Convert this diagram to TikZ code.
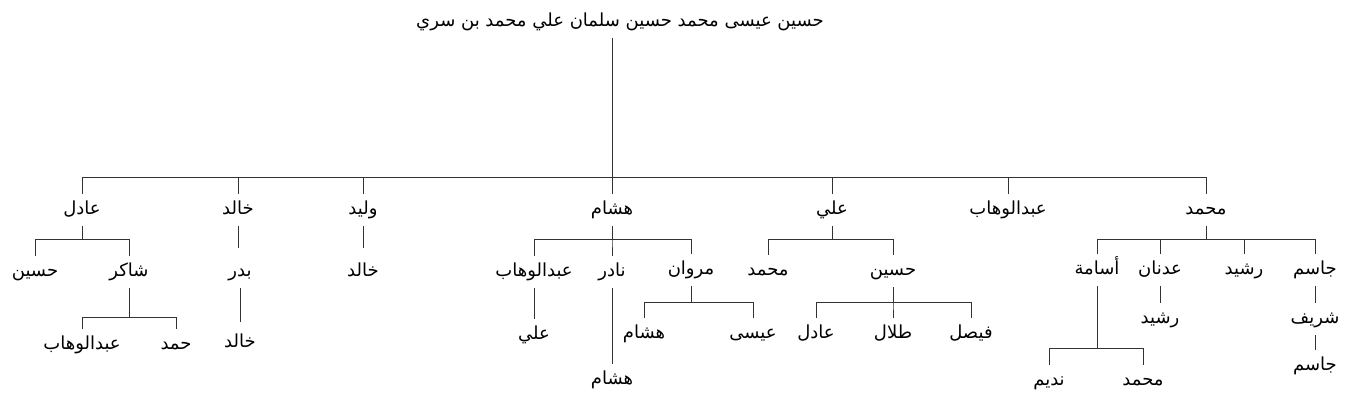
\documentclass[tikz,border=0pt]{standalone}
\usepackage{fontspec}
\newfontfamily\arabicfont[Script=Arabic]{DejaVu Sans}
\TeXXeTstate=1
\newcommand\AR[1]{\beginR#1\endR}
\begin{document}
\begin{tikzpicture}[x=1pt,y=-1pt,
  nm/.style={font=\arabicfont\fontsize{18}{20}\selectfont, inner xsep=0pt, inner ysep=4pt, text height=13pt, text depth=5pt},
  link/.style={draw=black!80, line width=0.9pt, shorten <=3pt, shorten >=3pt},
  longlink/.style={link, shorten >=11pt}]
\useasboundingbox (0,0) rectangle (1353,405);
% root
\node[nm] (root) at (620,22) {\AR{حسين عيسى محمد حسين سلمان علي محمد بن سري}};
% level 1
\node[nm] (adil) at (82,210) {\AR{عادل}};
\node[nm] (khalid) at (238,210) {\AR{خالد}};
\node[nm] (walid) at (363,210) {\AR{وليد}};
\node[nm] (hisham) at (612,210) {\AR{هشام}};
\node[nm] (ali) at (832,210) {\AR{علي}};
\node[nm] (abdulwahab) at (1008,210) {\AR{عبدالوهاب}};
\node[nm] (mohammad) at (1206,210) {\AR{محمد}};
% adil
\node[nm] (husain1) at (35,272) {\AR{حسين}};
\node[nm] (shakir) at (129,272) {\AR{شاكر}};
\node[nm] (abdulwahab2) at (82,345) {\AR{عبدالوهاب}};
\node[nm] (hamad) at (176,345) {\AR{حمد}};
% khalid
\node[nm] (badr) at (240,272) {\AR{بدر}};
\node[nm] (khalid2) at (240,343) {\AR{خالد}};
% walid
\node[nm] (khalid3) at (363,272) {\AR{خالد}};
% hisham
\node[nm] (abdulwahab3) at (534,272) {\AR{عبدالوهاب}};
\node[nm] (nadir) at (612,272) {\AR{نادر}};
\node[nm] (marwan) at (691,270) {\AR{مروان}};
\node[nm] (ali2) at (534,335) {\AR{علي}};
\node[nm] (hisham2) at (612,380) {\AR{هشام}};
\node[nm] (hisham3) at (644,334) {\AR{هشام}};
\node[nm] (isa) at (753,334) {\AR{عيسى}};
% ali
\node[nm] (mohammad2) at (768,271) {\AR{محمد}};
\node[nm] (husain2) at (893,271) {\AR{حسين}};
\node[nm] (adil2) at (816,334) {\AR{عادل}};
\node[nm] (talal) at (893,334) {\AR{طلال}};
\node[nm] (faisal) at (971,334) {\AR{فيصل}};
% mohammad
\node[nm] (usama) at (1097,270) {\AR{أسامة}};
\node[nm] (adnan) at (1160,270) {\AR{عدنان}};
\node[nm] (rashid) at (1244,270) {\AR{رشيد}};
\node[nm] (jasim) at (1315,270) {\AR{جاسم}};
\node[nm] (rashid2) at (1160,319) {\AR{رشيد}};
\node[nm] (sharif) at (1315,319) {\AR{شريف}};
\node[nm] (jasim2) at (1315,366) {\AR{جاسم}};
\node[nm] (nadim) at (1049,381) {\AR{نديم}};
\node[nm] (mohammad3) at (1143,381) {\AR{محمد}};
% bar coordinates
\coordinate (top) at (612,177);
\coordinate (bAdil) at (82,239);
\coordinate (bShakir) at (129,317);
\coordinate (bHisham) at (612,239);
\coordinate (bMarwan) at (691,302);
\coordinate (bAli) at (832,239);
\coordinate (bHusain) at (893,302);
\coordinate (bMoh) at (1206,239);
\coordinate (bUsama) at (1097,348);
% connectors
\draw[link, shorten >=0pt] (root.south -| top) -- (top);
\foreach \c in {adil,khalid,walid,hisham,ali,abdulwahab,mohammad}
  \draw[link, shorten <=0pt] (top) -| (\c.north);
\foreach \c in {husain1,shakir} \draw[link] (adil.south) -- (bAdil) -| (\c.north);
\foreach \c in {abdulwahab2,hamad} \draw[link] (shakir.south) -- (bShakir) -| (\c.north);
\draw[longlink] (khalid.south) -- (badr.north -| khalid.south);
\draw[link, shorten >=8pt] (badr.south) -- (khalid2.north);
\draw[longlink] (walid.south) -- (khalid3.north);
\foreach \c in {abdulwahab3,nadir,marwan} \draw[link] (hisham.south) -- (bHisham) -| (\c.north);
\draw[link] (abdulwahab3.south) -- (ali2.north);
\draw[link] (nadir.south) -- (hisham2.north);
\foreach \c in {hisham3,isa} \draw[link] (marwan.south) -- (bMarwan) -| (\c.north);
\foreach \c in {mohammad2,husain2} \draw[link] (ali.south) -- (bAli) -| (\c.north);
\foreach \c in {adil2,talal,faisal} \draw[link] (husain2.south) -- (bHusain) -| (\c.north);
\foreach \c in {usama,adnan,rashid,jasim} \draw[link] (mohammad.south) -- (bMoh) -| (\c.north);
\draw[link] (adnan.south) -- (rashid2.north);
\draw[link] (jasim.south) -- (sharif.north);
\draw[link] (sharif.south) -- (jasim2.north);
\foreach \c in {nadim,mohammad3} \draw[link] (usama.south) -- (bUsama) -| (\c.north);
\end{tikzpicture}
\end{document}
